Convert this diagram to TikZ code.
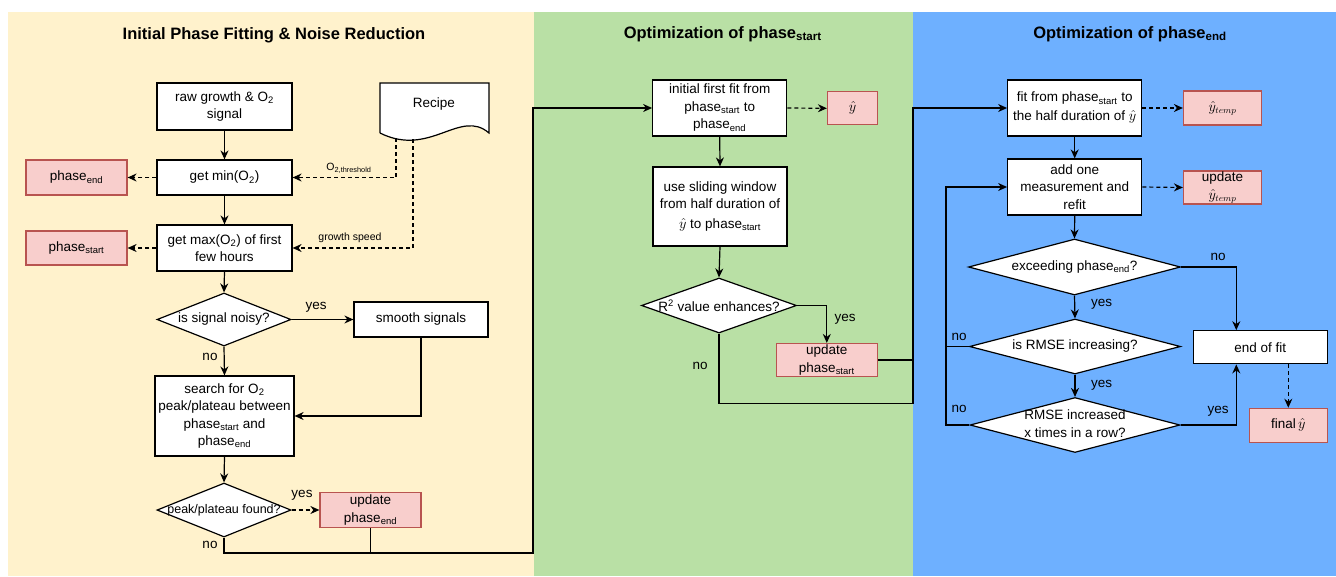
\documentclass[tikz,border=0pt]{standalone}
\usepackage{fontspec}
\setmainfont{Liberation Sans}
\usetikzlibrary{arrows.meta,shapes.geometric}
\definecolor{pyellow}{HTML}{FFF2CC}
\definecolor{pgreen}{HTML}{B9E0A5}
\definecolor{pblue}{HTML}{6EB0FF}
\definecolor{pinkf}{HTML}{F8CECC}
\definecolor{pinkd}{HTML}{B85450}
\tikzset{
  mainfont/.style={font=\fontsize{13.5}{17.5}\selectfont},
  box/.style={draw, fill=white, line width=1.2pt, align=center, inner sep=0pt, mainfont},
  pinkbox/.style={box, fill=pinkf, draw=pinkd},
  dia/.style={diamond, draw, fill=white, line width=1.2pt, inner sep=0pt, mainfont},
  arr/.style={line width=1.2pt, -{Stealth[length=9pt,width=8pt]}},
  darr/.style={arr, dash pattern=on 4pt off 3pt},
  plain/.style={line width=1.2pt},
  lab/.style={mainfont, inner sep=0pt},
  small/.style={font=\fontsize{10.5}{12}\selectfont, inner sep=0pt},
  ttl/.style={font=\fontsize{16.5}{20}\selectfont\bfseries, inner sep=0pt},
}
\begin{document}
\begin{tikzpicture}[x=1pt,y=-1pt]
\useasboundingbox (0,0) rectangle (1336,576);
% panels
\fill[pyellow] (8,12) rectangle (534,576);
\fill[pgreen] (534,12) rectangle (913,576);
\fill[pblue] (913,12) rectangle (1336,576);
% titles
\node[ttl] (t1) at (274,35.5) {Initial Phase Fitting \& Noise Reduction};
\node[ttl] (t2) at (722.7,34) {Optimization of phase\textsubscript{start}};
\node[ttl] (t3) at (1130,34) {Optimization of phase\textsubscript{end}};

% ---------- left panel ----------
\node[box, minimum width=135pt, minimum height=47pt] (raw) at (224.5,106.5) {raw growth \& O\textsubscript{2}\\signal};
\node[box, minimum width=135pt, minimum height=35pt] (getmin) at (224.5,177.5) {get min(O\textsubscript{2})};
\node[box, minimum width=135pt, minimum height=46pt] (getmax) at (224.5,248) {get max(O\textsubscript{2}) of first\\few hours};
\node[pinkbox, minimum width=101pt, minimum height=35pt] (pend) at (76.5,177.5) {phase\textsubscript{end}};
\node[pinkbox, minimum width=101pt, minimum height=34pt] (pstart) at (76.5,248) {phase\textsubscript{start}};
% recipe document
\draw[line width=1.2pt, fill=white] (380,133) -- (380,83) -- (489,83) -- (489,133)
  .. controls (460,108) and (430,158) .. (380,133);
\node[lab] (recipe) at (434,104) {Recipe};
\coordinate (rec1) at (396,138);
\coordinate (rec2) at (413,139);

\node[dia, minimum width=134pt, minimum height=53pt] (noisy) at (224,319.5) {\makebox[0pt]{is signal noisy?}};
\node[box, minimum width=134pt, minimum height=35pt] (smooth) at (421,319.5) {smooth signals};
\node[box, minimum width=139pt, minimum height=80pt] (search) at (224.5,416) {search for O\textsubscript{2}\\peak/plateau between\\phase\textsubscript{start} and\\phase\textsubscript{end}};
\node[dia, minimum width=134pt, minimum height=54pt] (found) at (224,510) {\makebox[0pt]{\fontsize{12.5}{15}\selectfont peak/plateau found?}};
\node[pinkbox, minimum width=101pt, minimum height=35pt] (upend) at (370.5,510) {update\\phase\textsubscript{end}};
\coordinate (j1) at (533,553);

\draw[arr] (raw.south) -- (getmin.north);
\draw[arr] (getmin.south) -- (getmax.north);
\draw[darr] (getmin.west) -- (pend.east);
\draw[darr] (getmax.west) -- (pstart.east);
\draw[darr] (rec1) |- (getmin.east);
\draw[darr] (rec2) |- (getmax.east);
\node[small] (lthr) at (349,168) {O\textsubscript{2,threshold}};
\node[small] (lgs) at (350,238) {growth speed};
\draw[arr] (getmax.south) -- (noisy.north);
\draw[arr] (noisy.east) -- (smooth.west);
\node[lab] (lyes1) at (316,307.5) {yes};
\draw[arr] (noisy.south) -- (search.north);
\node[lab] (lno1) at (210,357) {no};
\draw[arr] (smooth.south) |- (search.east);
\draw[arr] (search.south) -- (found.north);
\draw[darr] (found.east) -- (upend.west);
\node[lab] (lyes2) at (302,495) {yes};
\node[lab] (lno2) at (210,544.5) {no};

% ---------- middle panel ----------
\node[box, minimum width=134pt, minimum height=56pt] (init) at (719.7,108) {initial first fit from\\phase\textsubscript{start} to\\phase\textsubscript{end}};
\node[pinkbox, minimum width=50pt, minimum height=33pt] (yhat1) at (852.5,108.3) {$\hat{y}$};
\node[box, minimum width=134pt, minimum height=79pt] (slide) at (720,206.5) {use sliding window\\from half duration of\\[2pt]$\hat{y}$ to phase\textsubscript{start}};
\node[dia, minimum width=155pt, minimum height=55pt] (r2) at (719,305.5) {\makebox[0pt]{R\textsuperscript{2} value enhances?}};
\node[pinkbox, minimum width=101pt, minimum height=33pt] (upstart) at (826.8,360) {update\\phase\textsubscript{start}};
\coordinate (j2) at (913,403.3);

\draw[arr] (found.south) |- (j1) |- (init.west);
\draw[plain] (upend.south) -- (upend.south |- j1);
\draw[darr] (init.east) -- (yhat1.west);
\draw[arr] (init.south) -- (slide.north);
\draw[arr] (slide.south) -- (r2.north);
\draw[arr] (r2.east) -| (upstart.north);
\node[lab] (lyes3) at (845,319) {yes};
\node[lab] (lno3) at (700,366) {no};

% ---------- right panel ----------
\node[box, minimum width=134pt, minimum height=56pt] (fit) at (1074.7,108) {fit from phase\textsubscript{start} to\\[1.5pt]the half duration of $\hat{y}$};
\node[pinkbox, minimum width=78pt, minimum height=34pt] (ytemp) at (1222.5,108) {$\hat{y}_{temp}$};
\node[box, minimum width=134pt, minimum height=56pt] (add) at (1074.7,187) {add one\\measurement and\\refit};
\node[pinkbox, minimum width=78pt, minimum height=33pt] (upytemp) at (1222.5,187.5) {update\\$\hat{y}_{temp}$};
\node[dia, minimum width=212pt, minimum height=56pt] (exceed) at (1074.5,267) {\makebox[0pt]{exceeding phase\textsubscript{end}?}};
\node[dia, minimum width=211pt, minimum height=55pt] (rmse) at (1075,346.5) {\makebox[0pt]{is RMSE increasing?}};
\node[dia, minimum width=210pt, minimum height=55pt] (xtimes) at (1075,425) {\makebox[0pt]{\begin{tabular}{@{}c@{}}RMSE increased\\x times in a row?\end{tabular}}};
\node[box, minimum width=134pt, minimum height=33pt] (endfit) at (1260.3,347.3) {end of fit};
\node[pinkbox, minimum width=78pt, minimum height=34pt] (final) at (1288.3,425.3) {final\,$\hat{y}$};
\coordinate (j3) at (946,425);

\draw[arr] (r2.south) |- (j2) |- (fit.west);
\draw[plain] (upstart.east) -- (upstart.east -| j2);
\draw[darr] (fit.east) -- (ytemp.west);
\draw[arr] (fit.south) -- (add.north);
\draw[darr] (add.east) -- (upytemp.west);
\draw[arr] (add.south) -- (exceed.north);
\draw[arr] (exceed.east) -| ([xshift=-24pt]endfit.north);
\node[lab] (lno4) at (1218,256.7) {no};
\draw[arr] (exceed.south) -- (rmse.north);
\node[lab] (lyes4) at (1101.7,304) {yes};
\draw[arr] (rmse.south) -- (xtimes.north);
\node[lab] (lyes5) at (1101.7,385) {yes};
\draw[plain] (rmse.west) -- (rmse.west -| j3);
\draw[arr] (xtimes.west) -- (j3) |- (add.west);
\node[lab] (lno5) at (959,336.7) {no};
\node[lab] (lno6) at (959,409.3) {no};
\draw[arr] (xtimes.east) -| ([xshift=-24pt]endfit.south);
\node[lab] (lyes6) at (1218,411.7) {yes};
\draw[darr] (final.north |- endfit.south) -- (final.north);
\end{tikzpicture}
\end{document}
